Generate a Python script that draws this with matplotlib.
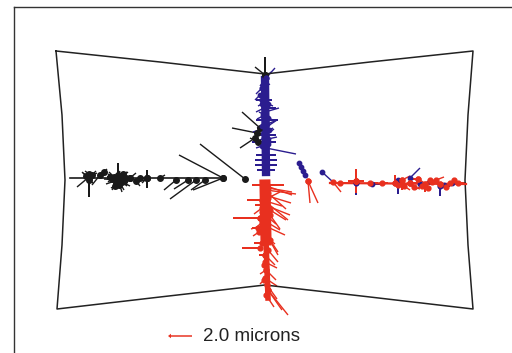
import matplotlib.pyplot as plt

# coordinates are in picture units (x to the right, y downwards)

# outline of the sample (bowtie)
outline_x = [56, 160, 265, 370, 473, 468, 465, 468, 473, 370, 265, 160, 57, 62, 65, 62, 56]
outline_y = [51, 62, 74, 62, 51, 115, 180, 245, 309, 297, 285, 297, 309, 245, 180, 115, 51]

# black arm (left)
black_axis_x = [70, 223]
black_axis_y = [178, 178]
black_x = [89, 89, 89, 89, 89, 89, 86, 92, 100, 104,
           118, 118, 118, 118, 118, 118, 118, 118, 118, 118, 114, 122, 116, 121,
           112, 124, 110, 126, 118, 119, 115, 123,
           130, 130, 136, 140, 147, 147, 147, 160, 176, 188, 196, 205,
           223, 223, 245,
           265, 265, 260, 257, 255, 258]
black_y = [177, 177, 177, 177, 174, 180, 176, 175, 175, 172,
           180, 180, 180, 180, 180, 180, 180, 180, 180, 180, 177, 182, 183, 176,
           179, 181, 177, 178, 175, 185, 186, 174,
           178, 178, 181, 178, 178, 178, 178, 178, 180, 180, 180, 180,
           178, 178, 179,
           75, 75, 128, 133, 138, 142]
black_u = [0, -12, 8, -6, -4, 4, -4, 4, -8, 3,
           0, -10, 10, -12, 12, -6, 6, 14, -14, 4, -5, 5, 3, -3,
           -4, 4, -3, 4, 2, -2, -4, 4,
           6, -4, 4, 4, 0, 0, -5, 5, -12, -14, -26, -14,
           -44, -30, -45,
           0, -10, -18, -25, -15, -8]
black_v = [20, 10, -4, -4, -3, 3, -4, -4, 10, -3,
           -17, -6, -8, 4, 6, 10, 10, -2, -1, 12, -5, 4, 5, -5,
           3, -3, 0, 2, -4, 4, 2, -2,
           -5, 6, 5, 3, 10, -8, 5, -3, 10, 9, 19, 10,
           -23, 12, -35,
           -18, -8, -16, -5, 10, -4]

# blue arm (top) and blue vectors on the right arm
blue_axis_x = [265, 266]
blue_axis_y = [80, 172]
blue_x = [266, 266, 266, 262, 262, 260, 262, 262, 264, 264, 265, 266, 266,
          265, 265, 266, 266, 266, 264, 264, 266, 266, 266, 265, 265, 265,
          265, 265, 265, 263, 267, 264, 268, 262,
          262, 268, 263, 268, 262, 269, 264, 268,
          299, 301, 303, 305,
          322, 356, 356, 372, 398, 410, 420, 440, 440, 452, 430, 444]
blue_y = [78, 78, 78, 88, 88, 95, 100, 100, 108, 108, 112, 120, 120,
          128, 128, 135, 135, 135, 142, 142, 148, 155, 155, 160, 160, 165,
          165, 170, 170, 116, 124, 132, 139, 146,
          104, 104, 114, 118, 126, 130, 138, 144,
          163, 167, 171, 175,
          172, 183, 183, 184, 180, 178, 184, 186, 186, 183, 181, 185]
blue_u = [9, -6, 5, -6, 8, -5, 10, -6, 12, -8, 14, 12, -10,
          12, -12, 10, -10, 8, 12, -12, 30, 10, -10, 12, -10, 12,
          -10, 10, -8, -6, 8, -7, 9, -6,
          -4, 5, -4, 5, -5, 4, -4, 4,
          2, 2, 2, 2,
          11, 0, 0, 8, 0, 10, 12, 0, 10, 10, 10, -8]
blue_v = [-10, 8, -6, 6, -4, 5, 0, 0, 0, 4, -4, 0, 0,
          -8, 4, 0, 0, -6, 0, 0, 6, 0, 0, 0, 0, 0,
          0, 0, 0, 3, -3, 4, -2, 2,
          2, 2, -2, 2, 2, -2, 2, -2,
          3, 3, 3, 3,
          10, 12, -10, 0, 14, -10, 0, 10, 0, 0, 4, -2]

# red arm (bottom) and red vectors on the right arm
red_axis_x = [265, 266]
red_axis_y = [185, 240]
red_axis2_x = [266, 268]
red_axis2_y = [240, 298]
right_axis_x = [330, 466]
right_axis_y = [183, 184]
red_x = [308, 308,
         333, 340, 356, 356, 356, 356, 370, 382, 395, 395, 402, 402, 410, 410,
         410, 418, 418, 425, 425, 432, 440, 440, 450, 458, 404, 430,
         414, 422, 436, 446, 454, 398, 428,
         264, 264, 264, 266, 265, 262, 262, 265, 265, 262, 260, 260, 263, 263,
         264, 265, 262, 260, 265, 265, 265, 266, 266, 265, 267, 268, 268, 266,
         268, 262, 270, 258, 270, 264, 268, 268, 266, 262, 270, 259, 268, 264]
red_y = [181, 181,
         182, 183, 181, 181, 181, 181, 183, 183, 183, 183, 180, 180, 183, 183,
         183, 179, 179, 184, 184, 182, 184, 184, 183, 183, 186, 180,
         187, 186, 180, 187, 180, 185, 188,
         185, 185, 185, 190, 195, 200, 200, 205, 205, 212, 218, 218, 225, 225,
         230, 236, 243, 248, 255, 255, 262, 270, 270, 278, 285, 290, 290, 295,
         198, 208, 215, 228, 240, 265, 188, 193, 202, 222, 210, 232, 250, 280]
red_u = [2, 10,
         8, -6, 0, 0, 8, -8, 8, 6, 8, 0, 0, 8, 8, -6,
         4, 10, -8, 8, 0, 10, 8, -6, 10, 8, 6, -6,
         6, -6, 8, -6, 6, 6, -4,
         20, -12, 28, 30, 26, -15, 20, 25, -10, 14, -27, 20, 22, -12,
         14, 10, -8, -18, 10, -6, 12, 10, -6, 12, 10, 14, 20, 8,
         12, -8, 10, -6, 8, 6, 24, 18, 22, -6, 16, -6, 10, -4]
red_v = [22, 22,
         10, 0, -12, 12, 0, 0, 0, 0, 0, -8, 10, -4, 0, 3,
         6, 6, 0, -4, 8, 2, 0, -4, 0, 0, 4, 4,
         2, 3, -3, -2, 3, 3, -3,
         0, 0, 10, 4, 8, 0, 6, 10, 0, 12, 0, 12, 10, 4,
         25, 8, 0, 0, 10, 0, 6, 10, 4, 8, 14, 20, 25, 12,
         -6, 6, 14, 0, 12, 10, 4, 16, 18, 6, 10, 4, 12, 4]

key_x = 192
key_y = 336
key_len = 24
key_label = "2.0 microns"

BLACK = '#1a1a1a'
BLUE = '#2b1d8f'
RED = '#e8301f'

fig = plt.figure(figsize=(5.12, 3.53), dpi=100)
ax = fig.add_axes([14 / 512, 0, 498 / 512, 346 / 353])
ax.set_xlim(14, 512)
ax.set_ylim(353, 7)
ax.set_xticks([])
ax.set_yticks([])
for side in ['right', 'bottom']:
    ax.spines[side].set_visible(False)
for side in ['left', 'top']:
    ax.spines[side].set_color('#333333')
    ax.spines[side].set_linewidth(1.0)

ax.plot(outline_x, outline_y, color='#222222', lw=1.1)

# plain shafts, the measured point gets a dot
qkw = dict(angles='xy', scale_units='xy', scale=1, width=0.0028,
           headwidth=1, headlength=0, headaxislength=0)

ax.plot(black_axis_x, black_axis_y, color=BLACK, lw=1.2)
ax.quiver(black_x, black_y, black_u, black_v, color=BLACK, **qkw)
ax.scatter(black_x, black_y, s=16, color=BLACK, zorder=3)

ax.plot(blue_axis_x, blue_axis_y, color=BLUE, lw=6)
ax.quiver(blue_x, blue_y, blue_u, blue_v, color=BLUE, **qkw)
ax.scatter(blue_x, blue_y, s=10, color=BLUE, zorder=3)

ax.plot(red_axis_x, red_axis_y, color=RED, lw=8)
ax.plot(red_axis2_x, red_axis2_y, color=RED, lw=4)
ax.plot(right_axis_x, right_axis_y, color=RED, lw=1.6)
ax.quiver(red_x, red_y, red_u, red_v, color=RED, **qkw)
ax.scatter(red_x, red_y, s=12, color=RED, zorder=3)

ax.quiver([key_x], [key_y], [-key_len], [0], color=RED, angles='xy',
          scale_units='xy', scale=1, width=0.003, headwidth=3,
          headlength=2, headaxislength=2)
ax.text(key_x + 11, key_y, key_label, fontsize=13.5, color='#222222',
        va='center', ha='left', family='Liberation Sans')

fig.savefig('out.png', dpi=100)
